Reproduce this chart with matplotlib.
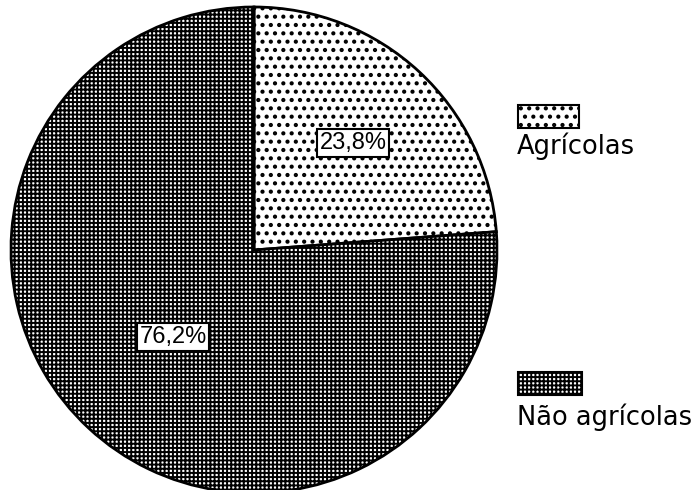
import matplotlib.pyplot as plt
from matplotlib.patches import Rectangle
import numpy as np

# dados
categorias = ['Agrícolas', 'Não agrícolas']
valores = [23.8, 76.2]
rotulos = ['23,8%', '76,2%']
hachuras = ['..', '++++']
esp_hachura = [1.8, 1.4]   # espessura: pontos, grade


def ajusta_hachura(patch, h, lw):
    patch.set_hatch(h)
    if hasattr(patch, 'set_hatch_linewidth'):
        patch.set_hatch_linewidth(lw)
    else:
        patch._hatch_linewidth = lw


fig = plt.figure(figsize=(6.98, 4.9), dpi=100)

# pizza: centro ~(254, 250) px, raio ~243 px
ax = fig.add_axes([11 / 698, -3 / 490, 486 / 698, 486 / 490])
wedges, _ = ax.pie(valores, startangle=90, counterclock=False,
                   colors=['white', 'white'],
                   wedgeprops=dict(edgecolor='black', linewidth=2.0))
for w, h, lw in zip(wedges, hachuras, esp_hachura):
    ajusta_hachura(w, h, lw)
ax.set_xlim(-1.0, 1.0)
ax.set_ylim(-1.0, 1.0)
ax.set_aspect('equal')
ax.axis('off')

# rótulos de percentagem dentro das fatias
distancias = [0.6, 0.49]
for w, txt, d in zip(wedges, rotulos, distancias):
    ang = np.deg2rad((w.theta1 + w.theta2) / 2)
    ax.text(d * np.cos(ang), d * np.sin(ang), txt, ha='center', va='center',
            fontsize=17, family='Liberation Sans',
            bbox=dict(boxstyle='square,pad=0.12', facecolor='white',
                      edgecolor='black', linewidth=1.5))

# legenda manual (caixa por cima do texto)
lg = fig.add_axes([0, 0, 1, 1])
lg.set_xlim(0, 698)
lg.set_ylim(490, 0)
lg.axis('off')
caixas = [(518, 105, 61, 23), (518, 372, 64, 23)]
textos_y = [146, 417]
for (x, y, cw, ch), h, lw, nome, ty in zip(caixas, hachuras, esp_hachura,
                                           categorias, textos_y):
    r = Rectangle((x, y), cw, ch, facecolor='white', edgecolor='black',
                  linewidth=1.5)
    ajusta_hachura(r, h, lw)
    lg.add_patch(r)
    lg.text(517, ty, nome, ha='left', va='center', fontsize=18.5,
            family='DejaVu Sans')

fig.savefig('out.png', dpi=100)
